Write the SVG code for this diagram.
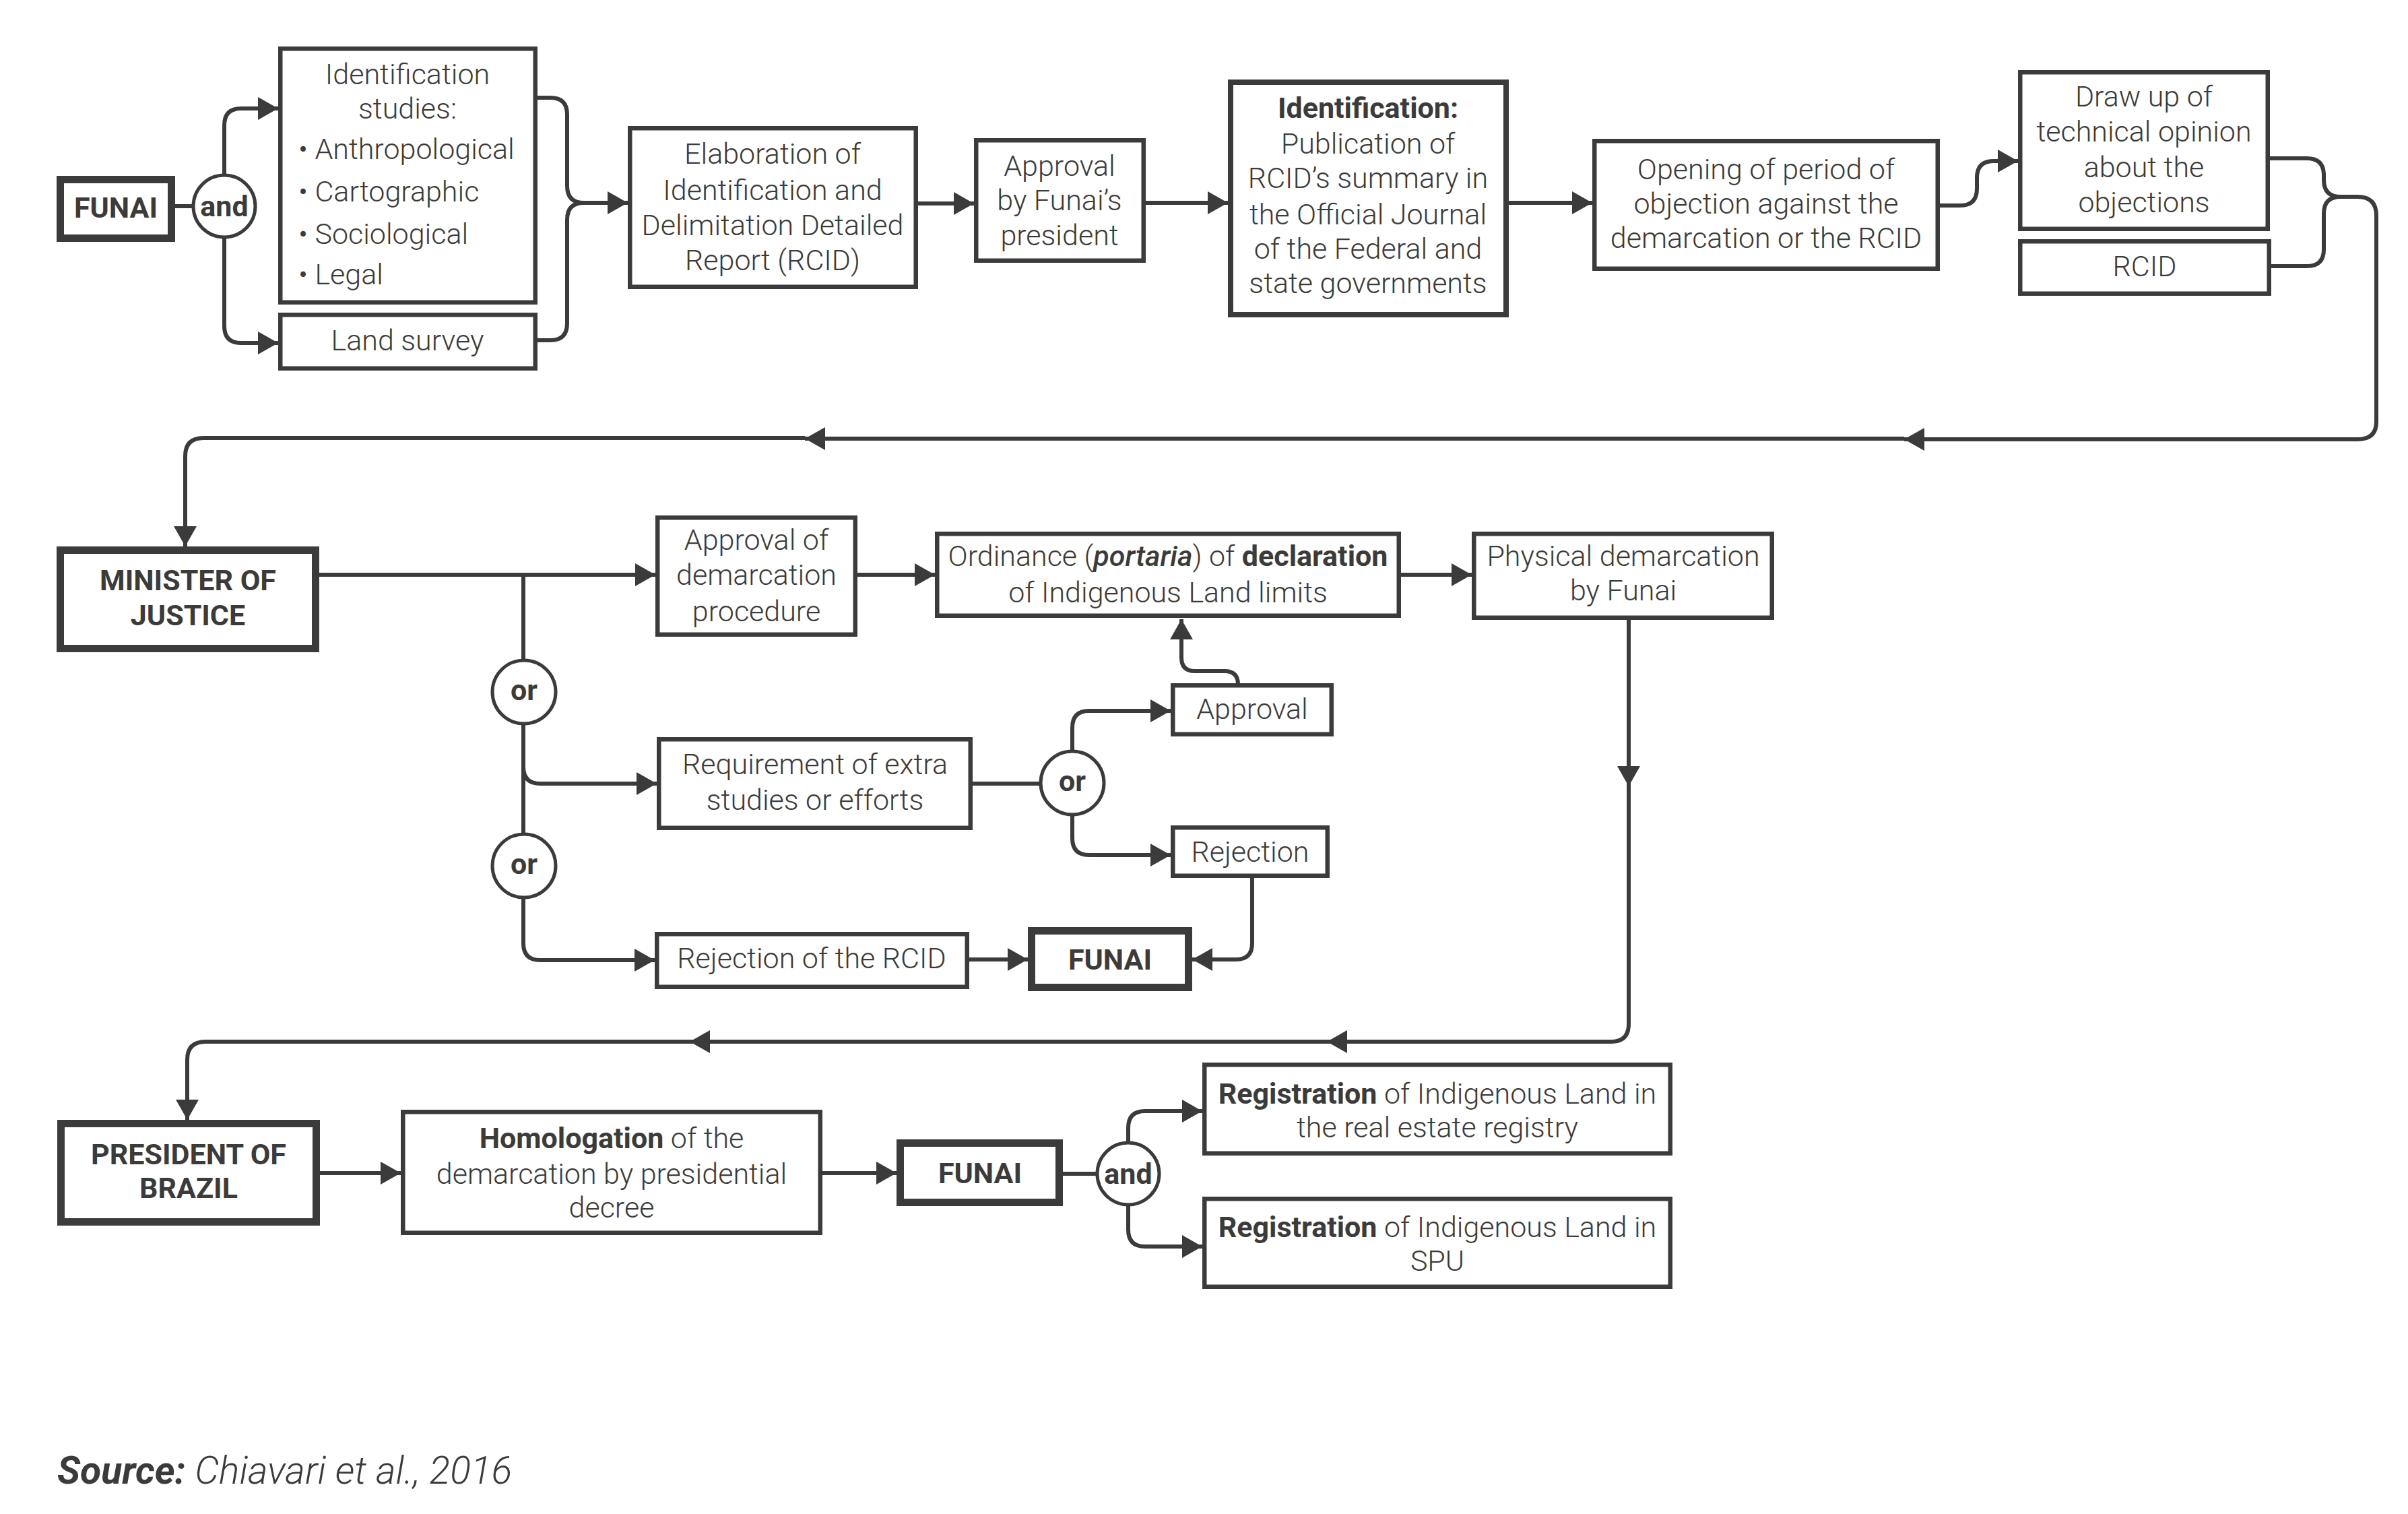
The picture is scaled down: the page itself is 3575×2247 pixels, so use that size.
<svg xmlns="http://www.w3.org/2000/svg" width="3575" height="2247" viewBox="0 0 3575 2247">
<style>
.box{fill:#fff;stroke:#3b3b3b;stroke-width:6.5}
.thick{stroke-width:11}
.t{font-family:Roboto,"Liberation Sans",sans-serif;font-weight:300;font-size:43px;fill:#3b3b3b;text-anchor:middle}
.s{text-anchor:start}
.b{font-weight:700}
.c{fill:#fff;stroke:#3b3b3b;stroke-width:5}
.ln{fill:none;stroke:#3b3b3b;stroke-width:6}
.ar{marker-end:url(#ah)}
</style>
<defs>
<marker id="ah" markerUnits="userSpaceOnUse" viewBox="0 0 32 36" markerWidth="32" markerHeight="36" refX="30" refY="17" orient="auto"><path d="M0,0 L30,17 L0,34 z" fill="#3b3b3b"/></marker>
</defs>
<rect width="3575" height="2247" fill="#fff"/>
<g id="connectors">
<path class="ln" d="M260,306 H290"/>
<path class="ln ar" d="M333,261 V186 Q333,161 358,161 H413"/>
<path class="ln ar" d="M333,352 V484 Q333,509 358,509 H413"/>
<path class="ln ar" d="M798,145 H817 Q842,145 842,170 V276 Q842,301 867,301 H932"/>
<path class="ln" d="M798,505 H817 Q842,505 842,480 V326 Q842,301 867,301"/>
<path class="ln ar" d="M1363,302 H1446"/>
<path class="ln ar" d="M1701,301 H1823"/>
<path class="ln ar" d="M2240,301 H2364"/>
<path class="ln ar" d="M2880,305 H2910 Q2935,305 2935,280 V264 Q2935,239 2960,239 H2996"/>
<path class="ln" d="M3370,235 H3425 Q3450,235 3450,260 V267 Q3450,292 3475,292 H3500 Q3528,292 3528,320 V626 Q3528,652 3500,652 H2827"/>
<path class="ln" d="M3372,395 H3425 Q3450,395 3450,370 V317 Q3450,292 3475,292"/>
<path class="ln ar" d="M3500,652 H2827"/>
<path class="ln ar" d="M2827,651 H1195"/>
<path class="ln ar" d="M1195,650 H302 Q275,650 275,677 V811"/>
<path class="ln ar" d="M474,853 H973"/>
<path class="ln" d="M777,853 V981"/>
<path class="ln" d="M777,1073 V1239"/>
<path class="ln ar" d="M777,1100 V1138 Q777,1163 802,1163 H975"/>
<path class="ln ar" d="M777,1331 V1400 Q777,1425 802,1425 H972"/>
<path class="ln ar" d="M1273,853 H1388"/>
<path class="ln ar" d="M2080,853 H2185"/>
<path class="ln" d="M1444,1163 H1545"/>
<path class="ln ar" d="M1592,1116 V1080 Q1592,1055 1617,1055 H1738"/>
<path class="ln ar" d="M1592,1208 V1244 Q1592,1269 1617,1269 H1738"/>
<path class="ln ar" d="M1838,1014 V1016 Q1838,996 1818,996 H1774 Q1754,996 1754,976 V919"/>
<path class="ln ar" d="M1859,1303 V1400 Q1859,1424 1835,1424 H1770"/>
<path class="ln ar" d="M1439,1424 H1526"/>
<path class="ln ar" d="M2418,920 V1167"/>
<path class="ln ar" d="M2418,1167 V1520 Q2418,1546 2392,1546 H1970"/>
<path class="ln ar" d="M1970,1546 H1024"/>
<path class="ln ar" d="M1024,1546 H305 Q278,1546 278,1573 V1662"/>
<path class="ln ar" d="M475,1741 H595"/>
<path class="ln ar" d="M1221,1741 H1331"/>
<path class="ln" d="M1578,1742 H1630"/>
<path class="ln ar" d="M1675,1697 V1674 Q1675,1649 1700,1649 H1785"/>
<path class="ln ar" d="M1675,1787 V1825 Q1675,1850 1700,1850 H1785"/>
</g>
<g id="funai1"><rect class="box thick" x="89.5" y="266.5" width="165" height="87"/><text class="t b" x="172" y="323">FUNAI</text></g>
<g id="and1"><circle class="c" cx="333" cy="306" r="46"/><text class="t b" x="333" y="321">and</text></g>
<g id="ident"><rect class="box" x="416.25" y="72.25" width="378.5" height="376.5"/>
<text class="t" x="605" y="125">Identification</text>
<text class="t" x="605" y="176">studies:</text>
<text class="t s" x="443" y="236">• Anthropological</text>
<text class="t s" x="443" y="299">• Cartographic</text>
<text class="t s" x="443" y="362">• Sociological</text>
<text class="t s" x="443" y="422">• Legal</text></g>
<g id="land"><rect class="box" x="416.25" y="467.25" width="378.5" height="79.5"/><text class="t" x="605" y="520">Land survey</text></g>
<g id="elab"><rect class="box" x="935.25" y="190.25" width="424.5" height="235.5"/>
<text class="t" x="1147" y="243">Elaboration of</text>
<text class="t" x="1147" y="297">Identification and</text>
<text class="t" x="1147" y="349">Delimitation Detailed</text>
<text class="t" x="1147" y="401">Report (RCID)</text></g>
<g id="appr1"><rect class="box" x="1449.25" y="208.25" width="248.5" height="178.5"/>
<text class="t" x="1573" y="261">Approval</text>
<text class="t" x="1573" y="312">by Funai’s</text>
<text class="t" x="1573" y="364">president</text></g>
<g id="identif"><rect class="box" x="1827" y="122" width="409" height="345" style="stroke-width:8"/>
<text class="t b" x="2031" y="175">Identification:</text>
<text class="t" x="2031" y="228">Publication of</text>
<text class="t" x="2031" y="279">RCID’s summary in</text>
<text class="t" x="2031" y="333">the Official Journal</text>
<text class="t" x="2031" y="384">of the Federal and</text>
<text class="t" x="2031" y="435">state governments</text></g>
<g id="opening"><rect class="box" x="2367.25" y="209.25" width="509.5" height="189.5"/>
<text class="t" x="2622" y="266">Opening of period of</text>
<text class="t" x="2622" y="317">objection against the</text>
<text class="t" x="2622" y="368">demarcation or the RCID</text></g>
<g id="drawup"><rect class="box" x="2999.25" y="107.25" width="367.5" height="232.5"/>
<text class="t" x="3183" y="158">Draw up of</text>
<text class="t" x="3183" y="210">technical opinion</text>
<text class="t" x="3183" y="263">about the</text>
<text class="t" x="3183" y="315">objections</text></g>
<g id="rcid"><rect class="box" x="2999.25" y="358.25" width="369.5" height="77.5"/><text class="t" x="3184" y="410">RCID</text></g>
<g id="minister"><rect class="box thick" x="89.5" y="816.5" width="379" height="146"/>
<text class="t b" x="279" y="876">MINISTER OF</text>
<text class="t b" x="279" y="928">JUSTICE</text></g>
<g id="apdem"><rect class="box" x="976.25" y="768.25" width="293.5" height="173.5"/>
<text class="t" x="1123" y="816">Approval of</text>
<text class="t" x="1123" y="868">demarcation</text>
<text class="t" x="1123" y="922">procedure</text></g>
<g id="ordin"><rect class="box" x="1391.25" y="792.25" width="685.5" height="121.5"/>
<text class="t" x="1734" y="840">Ordinance (<tspan font-style="italic" font-weight="500">portaria</tspan>) of <tspan class="b">declaration</tspan></text>
<text class="t" x="1734" y="894">of Indigenous Land limits</text></g>
<g id="phys"><rect class="box" x="2188.25" y="792.25" width="442.5" height="124.5"/>
<text class="t" x="2410" y="840">Physical demarcation</text>
<text class="t" x="2410" y="891">by Funai</text></g>
<g id="or1"><circle class="c" cx="778" cy="1027" r="47"/><text class="t b" x="778" y="1039">or</text></g>
<g id="or2"><circle class="c" cx="778" cy="1285" r="47"/><text class="t b" x="778" y="1297">or</text></g>
<g id="or3"><circle class="c" cx="1592" cy="1162" r="47"/><text class="t b" x="1592" y="1174">or</text></g>
<g id="require"><rect class="box" x="978.25" y="1097.25" width="462.5" height="131.5"/>
<text class="t" x="1210" y="1149">Requirement of extra</text>
<text class="t" x="1210" y="1202">studies or efforts</text></g>
<g id="approval"><rect class="box" x="1741.25" y="1017.25" width="235.5" height="72.5"/><text class="t" x="1859" y="1067">Approval</text></g>
<g id="rejection"><rect class="box" x="1741.25" y="1228.25" width="229.5" height="71.5"/><text class="t" x="1856" y="1279">Rejection</text></g>
<g id="rejrcid"><rect class="box" x="975.25" y="1386.25" width="460.5" height="78.5"/><text class="t" x="1205" y="1437">Rejection of the RCID</text></g>
<g id="funai2"><rect class="box thick" x="1531.5" y="1381.5" width="233" height="84"/><text class="t b" x="1648" y="1439">FUNAI</text></g>
<g id="president"><rect class="box thick" x="90.5" y="1667.5" width="379" height="146"/>
<text class="t b" x="280" y="1728">PRESIDENT OF</text>
<text class="t b" x="280" y="1778">BRAZIL</text></g>
<g id="homolog"><rect class="box" x="598.25" y="1650.25" width="619.5" height="179.5"/>
<text class="t" x="908" y="1704"><tspan class="b">Homologation</tspan> of the</text>
<text class="t" x="908" y="1757">demarcation by presidential</text>
<text class="t" x="908" y="1807">decree</text></g>
<g id="funai3"><rect class="box thick" x="1336.5" y="1696.5" width="236" height="88"/><text class="t b" x="1455" y="1756">FUNAI</text></g>
<g id="and2"><circle class="c" cx="1675" cy="1742" r="46"/><text class="t b" x="1675" y="1757">and</text></g>
<g id="reg1"><rect class="box" x="1788.25" y="1580.25" width="691.5" height="131.5"/>
<text class="t" x="2134" y="1638"><tspan class="b">Registration</tspan> of Indigenous Land in</text>
<text class="t" x="2134" y="1688">the real estate registry</text></g>
<g id="reg2"><rect class="box" x="1788.25" y="1779.25" width="691.5" height="130.5"/>
<text class="t" x="2134" y="1836"><tspan class="b">Registration</tspan> of Indigenous Land in</text>
<text class="t" x="2134" y="1886">SPU</text></g>
<text x="85" y="2202" style="font-family:Roboto,'Liberation Sans',sans-serif;font-size:57px;font-style:italic;font-weight:300;fill:#3b3b3b"><tspan font-weight="700">Source:</tspan> Chiavari et al., 2016</text>
</svg>
